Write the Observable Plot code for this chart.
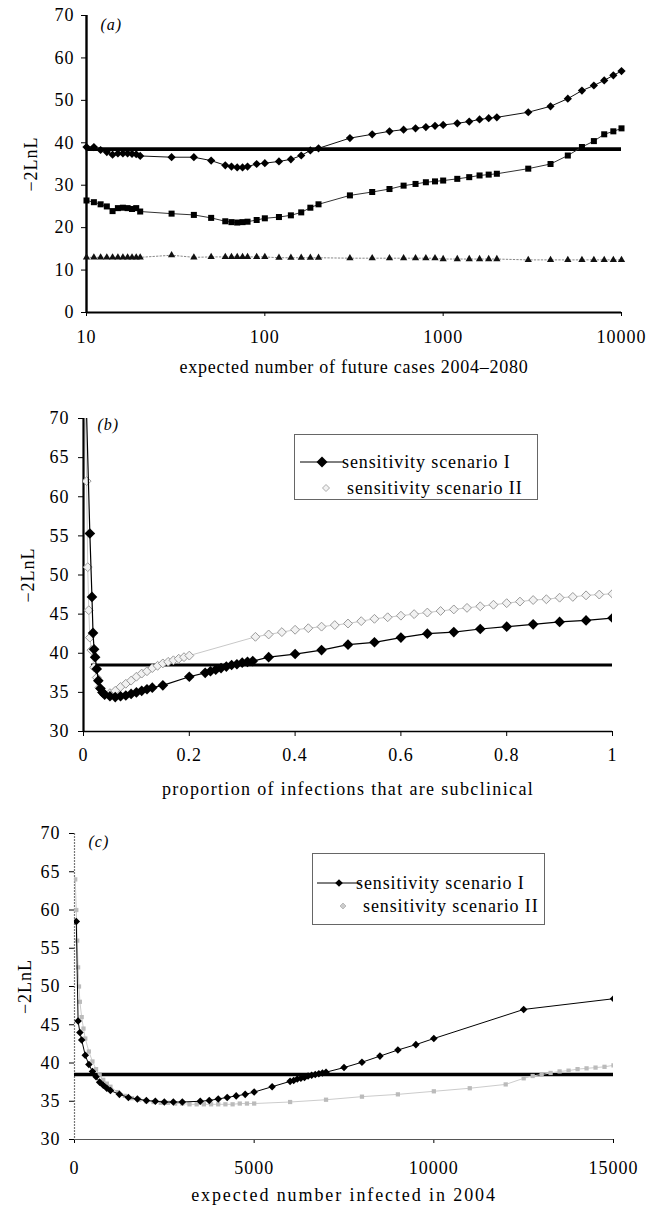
<!DOCTYPE html>
<html><head><meta charset="utf-8">
<script src="https://cdn.jsdelivr.net/npm/d3@7"></script>
<script src="https://cdn.jsdelivr.net/npm/@observablehq/plot@0.6"></script>
<style>
body{margin:0;background:#fff;}
#wrap{position:relative;width:652px;height:1206px;overflow:hidden;font-family:"Liberation Serif",serif;}
.panel{position:absolute;left:0;}
.legend{position:absolute;border:1px solid #666;background:#fff;font:18px "Liberation Serif",serif;letter-spacing:0.9px;color:#000;box-sizing:border-box;}
.legend svg{position:absolute;}
.legend span{position:absolute;white-space:nowrap;}
</style></head><body><div id="wrap"></div>
<script>
// ---------- Panel (a): expected number of future cases 2004-2080 ----------
const casesA = [10,11,12,13,14,15,16,17,18,19,20,30,40,50,60,65,70,75,80,90,100,120,140,160,180,200,300,400,500,600,700,800,900,1000,1200,1400,1600,1800,2000,3000,4000,5000,6000,7000,8000,9000,10000];
const lnLA1 = [39.0,39.0,38.3,37.8,37.2,37.5,37.5,37.5,37.4,37.3,36.9,36.6,36.6,35.8,34.7,34.4,34.2,34.2,34.4,35.0,35.2,35.6,36.1,37.0,38.2,38.7,41.1,42.0,42.7,43.1,43.4,43.7,44.0,44.2,44.6,45.0,45.5,45.8,46.0,47.2,48.6,50.4,52.3,53.5,54.7,55.9,56.9];
const lnLA2 = [26.4,26.0,25.5,25.0,23.9,24.6,24.7,24.6,24.4,24.6,23.8,23.3,23.0,22.3,21.5,21.3,21.2,21.3,21.4,21.8,22.2,22.5,22.9,23.6,24.7,25.5,27.6,28.4,29.1,29.9,30.3,30.7,30.9,31.1,31.5,31.9,32.3,32.5,32.7,33.9,35.0,37.0,39.0,40.4,42.0,42.7,43.4];
const lnLA3 = [13.0,13.0,13.0,13.0,13.0,13.0,13.0,13.0,13.0,13.0,13.0,13.5,13.0,13.1,13.1,13.1,13.1,13.1,13.1,13.1,13.1,12.9,12.9,12.9,12.9,12.9,12.8,12.8,12.8,12.8,12.8,12.8,12.8,12.6,12.6,12.6,12.6,12.6,12.6,12.4,12.4,12.4,12.4,12.4,12.4,12.4,12.4];
const thresholdA = 38.5;
const yTicksA = [0,10,20,30,40,50,60,70];
const xTicksA = [10,100,1000,10000];

// ---------- Panel (b): proportion of infections that are subclinical ----------
const propI = [0.004,0.012,0.016,0.018,0.02,0.022,0.025,0.028,0.032,0.036,0.04,0.05,0.06,0.07,0.08,0.09,0.1,0.11,0.12,0.13,0.15,0.2,0.23,0.24,0.25,0.26,0.27,0.28,0.29,0.3,0.31,0.32,0.35,0.4,0.45,0.5,0.55,0.6,0.65,0.7,0.75,0.8,0.85,0.9,0.95,1];
const lnLBI = [75,55.3,47.2,42.6,40.5,39.5,38,36.5,35.5,35.0,34.7,34.5,34.4,34.5,34.6,34.8,35.0,35.2,35.4,35.6,35.9,37.0,37.5,37.7,37.9,38.1,38.3,38.5,38.6,38.8,38.9,39.0,39.5,39.9,40.4,41.1,41.4,42.0,42.5,42.7,43.1,43.4,43.7,44.0,44.2,44.5];
const propII = [0.003,0.006,0.008,0.01,0.012,0.015,0.02,0.025,0.03,0.035,0.04,0.05,0.06,0.07,0.08,0.09,0.1,0.11,0.12,0.13,0.14,0.15,0.16,0.17,0.18,0.19,0.2,0.325,0.35,0.375,0.4,0.425,0.45,0.475,0.5,0.525,0.55,0.575,0.6,0.625,0.65,0.675,0.7,0.725,0.75,0.775,0.8,0.825,0.85,0.875,0.9,0.925,0.95,0.975,1];
const lnLBII = [72,62,51,45.5,42,40.4,38.2,36.9,35.6,35.0,34.8,34.9,35.2,35.7,36.1,36.5,37.0,37.4,37.7,38.1,38.4,38.7,38.9,39.1,39.3,39.5,39.7,42.1,42.4,42.7,43.0,43.2,43.4,43.6,43.8,44.1,44.4,44.6,44.8,45.0,45.2,45.4,45.6,45.8,46.0,46.2,46.4,46.6,46.8,46.9,47.1,47.2,47.4,47.5,47.6];
const thresholdB = {from: 0.015, to: 1, value: 38.5};
const xTicksB = [0,0.2,0.4,0.6,0.8,1];
const yTicksBC = [30,35,40,45,50,55,60,65,70];

// ---------- Panel (c): expected number infected in 2004 ----------
const infI = [50,100,150,200,300,400,500,600,700,800,900,1000,1250,1500,1750,2000,2250,2500,2750,3000,3500,3750,4000,4250,4500,4750,5000,5500,6000,6100,6200,6300,6400,6500,6600,6700,6800,6900,7000,7500,8000,8500,9000,9500,10000,12500,15000];
const lnLCI = [58.5,45.5,44.0,43.0,41.0,39.8,38.9,38.2,37.5,37.1,36.7,36.4,35.9,35.5,35.3,35.1,35.0,34.9,34.9,34.9,35.0,35.1,35.3,35.5,35.7,35.9,36.2,36.9,37.6,37.7,37.9,38.0,38.1,38.3,38.4,38.5,38.6,38.7,38.8,39.4,40.1,40.9,41.7,42.4,43.2,47.0,48.4];
const infII = [20,50,75,100,125,150,200,250,300,400,500,600,700,800,900,1000,1200,1400,1600,1800,2000,2200,2400,2600,2800,3000,3200,3400,3600,3800,4000,4200,4400,4600,4800,5000,6000,7000,8000,9000,10000,11000,12000,12500,12750,13000,13250,13500,13750,14000,14250,14500,14750,15000];
const lnLCII = [64,60,56,52.5,50,48,46,44.5,43.2,41.5,40.2,39.2,38.4,37.8,37.3,36.9,36.2,35.7,35.4,35.2,35.0,34.9,34.8,34.8,34.7,34.7,34.6,34.6,34.6,34.6,34.6,34.6,34.6,34.7,34.7,34.7,34.9,35.2,35.6,35.9,36.3,36.7,37.2,38.0,38.3,38.5,38.7,38.9,39.0,39.2,39.3,39.4,39.5,39.7];
const thresholdC = 38.5;
const xTicksC = [0,5000,10000,15000];

const yTitle = "−2LnL";
const xTitles = ["expected number of future cases 2004–2080", "proportion of infections that are subclinical", "expected number infected in 2004"];
const panelTags = ["(a)", "(b)", "(c)"];
const legendLabels = ["sensitivity scenario I", "sensitivity scenario II"];

// ---------- build ----------
const FONT = '"Liberation Serif", "Times New Roman", serif';
const zipXY = (xs, ys) => xs.map((x, i) => ({x, y: ys[i]}));
const wrap = document.getElementById("wrap");

function place(svg, top, titleSpacing) {
  // spread the x-axis title like the scanned original
  d3.select(svg).selectAll("text").filter(function() { return xTitles.includes(this.textContent); })
    .style("letter-spacing", titleSpacing + "px");
  const d = document.createElement("div");
  d.className = "panel"; d.style.top = top + "px";
  d.appendChild(svg); wrap.appendChild(d);
}

const baseStyle = {fontFamily: FONT, fontSize: "18px", letterSpacing: "1px", color: "#000", background: "transparent", overflow: "visible"};

// Panel a
const A1 = zipXY(casesA, lnLA1), A2 = zipXY(casesA, lnLA2), A3 = zipXY(casesA, lnLA3);
place(Plot.plot({
  width: 652, height: 392,
  marginLeft: 86, marginRight: 31, marginTop: 15, marginBottom: 80,
  style: baseStyle,
  x: {type: "log", domain: [xTicksA[0], xTicksA[xTicksA.length - 1]], ticks: xTicksA, tickFormat: d => String(d),
      tickSize: 4, tickPadding: 14, label: xTitles[0], labelAnchor: "center", labelOffset: 60, labelArrow: "none"},
  y: {domain: [yTicksA[0], yTicksA[yTicksA.length - 1]], ticks: yTicksA, tickSize: 5, tickPadding: 7,
      label: yTitle, labelAnchor: "center", labelOffset: 62, labelArrow: "none"},
  marks: [
    Plot.ruleY([yTicksA[0]], {stroke: "#000", strokeWidth: 1.8}),
    Plot.ruleX([xTicksA[0]], {stroke: "#000", strokeWidth: 2.4}),
    Plot.ruleY([thresholdA], {stroke: "#000", strokeWidth: 3.6}),
    Plot.line(A3, {x: "x", y: "y", stroke: "#888", strokeWidth: 1, strokeDasharray: "1.5,2"}),
    Plot.dot(A3, {x: "x", y: "y", symbol: "triangle", r: 2.7, fill: "#111", stroke: "none"}),
    Plot.line(A2, {x: "x", y: "y", stroke: "#333", strokeWidth: 1}),
    Plot.dot(A2, {x: "x", y: "y", symbol: "square", r: 3.4, fill: "#000", stroke: "none"}),
    Plot.line(A1, {x: "x", y: "y", stroke: "#111", strokeWidth: 1}),
    Plot.dot(A1, {x: "x", y: "y", symbol: "diamond2", r: 3.7, fill: "#000", stroke: "none"}),
    Plot.text([panelTags[0]], {text: d => d, frameAnchor: "top-left", dx: 14, dy: 3, fontStyle: "italic", fontSize: 16})
  ]
}), 0, 0.75);

// Panel b
const BI = zipXY(propI, lnLBI), BII = zipXY(propII, lnLBII);
place(Plot.plot({
  width: 652, height: 420,
  marginLeft: 83, marginRight: 40, marginTop: 26, marginBottom: 81,
  style: baseStyle,
  x: {domain: [xTicksB[0], xTicksB[xTicksB.length - 1]], ticks: xTicksB, tickFormat: d => String(d),
      tickSize: 5, tickPadding: 12, label: xTitles[1], labelAnchor: "center", labelOffset: 63, labelArrow: "none"},
  y: {domain: [yTicksBC[0], yTicksBC[yTicksBC.length - 1]], ticks: yTicksBC, tickSize: 5, tickPadding: 9,
      label: yTitle, labelAnchor: "center", labelOffset: 62, labelArrow: "none"},
  marks: [
    Plot.ruleY([yTicksBC[0]], {stroke: "#000", strokeWidth: 1.4}),
    Plot.ruleX([xTicksB[0]], {stroke: "#000", strokeWidth: 2.2}),
    Plot.ruleY([thresholdB], {y: "value", x1: "from", x2: "to", stroke: "#000", strokeWidth: 3.2}),
    Plot.line(BII, {x: "x", y: "y", stroke: "#c8c8c8", strokeWidth: 1, clip: true}),
    Plot.dot(BII, {x: "x", y: "y", symbol: "diamond2", r: 4, fill: "#f2f2f2", stroke: "#999", strokeWidth: 1, clip: true}),
    Plot.line(BI, {x: "x", y: "y", stroke: "#000", strokeWidth: 1.2, clip: true}),
    Plot.dot(BI, {x: "x", y: "y", symbol: "diamond2", r: 4.8, fill: "#000", stroke: "none", clip: true}),
    Plot.text([panelTags[1]], {text: d => d, frameAnchor: "top-left", dx: 14, dy: 0, fontStyle: "italic", fontSize: 16})
  ]
}), 392, 1.35);

// Panel c
const CI = zipXY(infI, lnLCI), CII = zipXY(infII, lnLCII);
place(Plot.plot({
  width: 652, height: 394,
  marginLeft: 74, marginRight: 39, marginTop: 21, marginBottom: 67,
  style: baseStyle,
  x: {domain: [xTicksC[0], xTicksC[xTicksC.length - 1]], ticks: xTicksC, tickFormat: d => String(d),
      tickSize: 4, tickPadding: 18, label: xTitles[2], labelAnchor: "center", labelOffset: 61, labelArrow: "none"},
  y: {domain: [yTicksBC[0], yTicksBC[yTicksBC.length - 1]], ticks: yTicksBC, tickSize: 5, tickPadding: 9,
      label: yTitle, labelAnchor: "center", labelOffset: 56, labelArrow: "none"},
  marks: [
    Plot.ruleY([yTicksBC[0]], {stroke: "#555", strokeWidth: 1.2}),
    Plot.ruleX([xTicksC[0]], {stroke: "#777", strokeWidth: 1.2, strokeDasharray: "2,1"}),
    Plot.ruleY([thresholdC], {stroke: "#000", strokeWidth: 3.4}),
    Plot.line(CII, {x: "x", y: "y", stroke: "#ccc", strokeWidth: 1, clip: true}),
    Plot.dot(CII, {x: "x", y: "y", symbol: "square", r: 2.4, fill: "#bbb", stroke: "none", clip: true}),
    Plot.line(CI, {x: "x", y: "y", stroke: "#000", strokeWidth: 1, clip: true}),
    Plot.dot(CI, {x: "x", y: "y", symbol: "diamond2", r: 3.4, fill: "#000", stroke: "none", clip: true}),
    Plot.text([panelTags[2]], {text: d => d, frameAnchor: "top-left", dx: 14, dy: 2, fontStyle: "italic", fontSize: 16})
  ]
}), 812, 1.9);

// Legends (HTML, overlaid inside panels b and c)
function diamondPath(cx, cy, r) { return `M${cx},${cy - r}L${cx + r},${cy}L${cx},${cy + r}L${cx - r},${cy}Z`; }
function makeLegend(left, top, w, h, rows) {
  const box = document.createElement("div");
  box.className = "legend";
  Object.assign(box.style, {left: left + "px", top: top + "px", width: w + "px", height: h + "px"});
  rows.forEach(r => {
    const svg = d3.create("svg").attr("width", 50).attr("height", 16)
      .style("left", r.sx + "px").style("top", (r.cy - 8) + "px");
    if (r.line) svg.append("line").attr("x1", 2).attr("x2", 46).attr("y1", 8).attr("y2", 8).attr("stroke", r.line).attr("stroke-width", 1);
    svg.append("path").attr("d", diamondPath(24, 8, r.size)).attr("fill", r.fill).attr("stroke", r.stroke || "none");
    box.appendChild(svg.node());
    const s = document.createElement("span");
    s.textContent = r.label;
    Object.assign(s.style, {left: r.tx + "px", top: (r.cy - 11) + "px", lineHeight: "22px"});
    box.appendChild(s);
  });
  wrap.appendChild(box);
}
makeLegend(294, 434, 244, 66, [
  {label: legendLabels[0], sx: 3, tx: 47, cy: 27, line: "#000", fill: "#000", size: 5.5},
  {label: legendLabels[1], sx: 7, tx: 52, cy: 53, line: null, fill: "#f2f2f2", stroke: "#aaa", size: 3.5}
]);
makeLegend(312, 853, 233, 72, [
  {label: legendLabels[0], sx: 2, tx: 43, cy: 29, line: "#000", fill: "#000", size: 3.8},
  {label: legendLabels[1], sx: 6, tx: 50, cy: 52, line: null, fill: "#ccc", stroke: "#bbb", size: 3}
]);
</script>
</body></html>
